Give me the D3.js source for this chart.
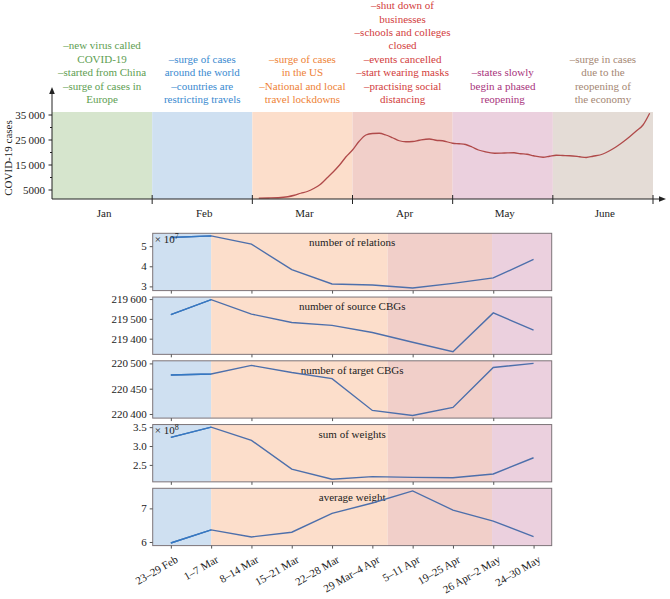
<!DOCTYPE html>
<html><head><meta charset="utf-8">
<script src="https://cdn.jsdelivr.net/npm/d3@7"></script>
<style>
body{margin:0;background:#fff}
svg{display:block;font-family:"Liberation Serif","Times New Roman",serif}
</style>
</head><body>
<svg id="c" width="670" height="599"></svg>
<script>
// ---------- DATA ----------
const months = ["Jan","Feb","Mar","Apr","May","June"];
const monthNotes = [
  ["\u2013new virus called","COVID-19","\u2013started from China","\u2013surge of cases in","Europe"],
  ["\u2013surge of cases","around the world","\u2013countries are","restricting travels"],
  ["\u2013surge of cases","in the US","\u2013National and local","travel lockdowns"],
  ["\u2013shut down of","businesses","\u2013schools and colleges","closed","\u2013events cancelled","\u2013start wearing masks","\u2013practising social","distancing"],
  ["\u2013states slowly","begin a phased","reopening"],
  ["\u2013surge in cases","due to the","reopening of","the economy"]
];
const monthBg = ["#d6e5cd","#cfe0f1","#fcdecb","#f1cfc9","#ebd0de","#e4dcd6"];
const monthText = ["#5e9e52","#3a8ad0","#ee8236","#d23c3c","#a8337c","#a58773"];

const caseDates = ["2020-03-03","2020-03-06","2020-03-09","2020-03-12","2020-03-14","2020-03-16","2020-03-18","2020-03-20","2020-03-22","2020-03-24","2020-03-26","2020-03-28","2020-03-30",
  "2020-04-01","2020-04-03","2020-04-05","2020-04-07","2020-04-09","2020-04-11","2020-04-13","2020-04-15","2020-04-17","2020-04-19","2020-04-21","2020-04-24","2020-04-26","2020-04-28",
  "2020-05-01","2020-05-03","2020-05-05","2020-05-07","2020-05-09","2020-05-11","2020-05-14","2020-05-17","2020-05-20","2020-05-22","2020-05-24","2020-05-26","2020-05-29","2020-05-31",
  "2020-06-02","2020-06-04","2020-06-06","2020-06-09","2020-06-11","2020-06-13","2020-06-16","2020-06-18","2020-06-20","2020-06-22","2020-06-24","2020-06-26","2020-06-28","2020-06-30"];
const caseValues = [1750,1800,1900,2300,2900,3700,4400,5600,7200,9700,12200,15000,18300,
  21000,24500,27000,27600,27700,27000,25900,24700,24300,24400,24900,25400,24900,24700,
  23700,23500,23200,22200,21000,20300,19700,19800,19900,19500,19300,18700,18100,18500,
  18900,18800,18700,18300,18000,18500,19400,20700,22300,24200,26300,28600,31000,35700];
const caseTicks = [5000,15000,25000,35000];
const caseMinorTicks = [10000,20000,30000];

const weekLabels = ["23\u201329 Feb","1\u20137 Mar","8\u201314 Mar","15\u201321 Mar","22\u201328 Mar","29 Mar\u20134 Apr","5\u201311 Apr","19\u201325 Apr","26 Apr\u20132 May","24\u201330 May"];
const relations  = [5.43e7,5.51e7,5.10e7,3.83e7,3.12e7,3.07e7,2.92e7,3.15e7,3.42e7,4.34e7];
const sourceCBGs = [219521,219597,219524,219482,219467,219431,219382,219334,219530,219443];
const targetCBGs = [220477,220479,220496,220482,220470,220407,220397,220413,220492,220500];
const sumWeights = [3.23e8,3.50e8,3.15e8,2.39e8,2.12e8,2.19e8,2.17e8,2.16e8,2.26e8,2.69e8];
const avgWeight  = [5.97,6.36,6.15,6.29,6.85,7.16,7.52,6.95,6.62,6.16];
const relTicks = [3e7,4e7,5e7];
const srcTicks = [219400,219500,219600];
const tgtTicks = [220400,220450,220500];
const sumTicks = [2.5e8,3.0e8,3.5e8];
const avgTicks = [6,7];
// phase boundaries (in week-index units) and colours
const phaseEdges = [1, 5.38, 7.97];
const phaseBg = ["#cfe0f1","#fcdecb","#f1cfc9","#ebd0de"];

// ---------- DRAW ----------
const svg = d3.select("#c");
const thin = "\u2009";
const grp = d3.format(",");
const fmtGroup = d => grp(d).replace(/,/g, thin);

// ===== Top chart =====
const tx = d3.scaleLinear().domain([0,6]).range([52,653]);
const ty = d3.scaleLinear().domain([1400,36200]).range([199,112]);
const monthPos = s => {
  const d = new Date(s + "T00:00:00");
  const m = d.getMonth(), day = d.getDate();
  const dim = new Date(d.getFullYear(), m+1, 0).getDate();
  return m + (day-1)/dim;
};
const topG = svg.append("g");
topG.selectAll("rect.mbg").data(months).join("rect")
  .attr("x",(d,i)=>tx(i)).attr("width",(d,i)=>tx(i+1)-tx(i))
  .attr("y",ty(36200)).attr("height",ty(1400)-ty(36200))
  .attr("fill",(d,i)=>monthBg[i]);

// notes
monthNotes.forEach((lines,i)=>{
  const n = lines.length;
  topG.append("g").selectAll("text").data(lines).join("text")
    .attr("x", tx(i+0.5))
    .attr("y",(d,j)=>103 - (n-1-j)*13.4)
    .attr("text-anchor","middle")
    .attr("font-size",11)
    .attr("fill",monthText[i])
    .text(d=>d);
});

// curve
topG.append("path")
  .datum(caseDates.map((d,i)=>[monthPos(d), caseValues[i]]))
  .attr("fill","none").attr("stroke","#b04a4a").attr("stroke-width",1.3)
  .attr("d", d3.line().x(d=>tx(d[0])).y(d=>ty(d[1])).curve(d3.curveMonotoneX));

// axes
const axCol = "#222";
topG.append("line").attr("x1",52).attr("x2",661).attr("y1",199).attr("y2",199).attr("stroke",axCol);
topG.append("path").attr("d","M666,199 L659,196.2 L659,201.8 Z").attr("fill",axCol);
topG.append("line").attr("x1",52).attr("x2",52).attr("y1",199).attr("y2",92).attr("stroke",axCol);
topG.append("path").attr("d","M52,87 L49.2,94 L54.8,94 Z").attr("fill",axCol);
topG.selectAll("line.mt").data(d3.range(1,7)).join("line")
  .attr("x1",d=>tx(d)).attr("x2",d=>tx(d)).attr("y1",195).attr("y2",204).attr("stroke",axCol);
topG.selectAll("text.ml").data(months).join("text")
  .attr("x",(d,i)=>tx(i+0.5)+2).attr("y",217).attr("text-anchor","middle")
  .attr("font-size",11).attr("fill","#222").text(d=>d);
topG.selectAll("line.yt").data(caseTicks).join("line")
  .attr("x1",48.5).attr("x2",52).attr("y1",d=>ty(d)).attr("y2",d=>ty(d)).attr("stroke",axCol);
topG.selectAll("line.ym").data(caseMinorTicks).join("line")
  .attr("x1",50).attr("x2",52).attr("y1",d=>ty(d)).attr("y2",d=>ty(d)).attr("stroke",axCol);
topG.selectAll("text.yl").data(caseTicks).join("text")
  .attr("x",45).attr("y",d=>ty(d)+3.8).attr("text-anchor","end")
  .attr("font-size",11).attr("fill","#222").text(d=>d>=10000?fmtGroup(d):String(d));
topG.append("text").attr("transform","translate(12,158) rotate(-90)")
  .attr("text-anchor","middle").attr("font-size",11).attr("fill","#222").text("COVID-19 cases");

// ===== Bottom panels =====
const px = d3.scaleLinear().domain([-0.45, 9.45]).range([152.7, 551.7]);
const panels = [
  {vals:relations,  ticks:relTicks, fmt:d=>String(Math.round(d/1e7)), title:"number of relations", exp:"7"},
  {vals:sourceCBGs, ticks:srcTicks, fmt:fmtGroup, title:"number of source CBGs"},
  {vals:targetCBGs, ticks:tgtTicks, fmt:fmtGroup, title:"number of target CBGs"},
  {vals:sumWeights, ticks:sumTicks, fmt:d=>d3.format(".1f")(d/1e8), title:"sum of weights", exp:"8"},
  {vals:avgWeight,  ticks:avgTicks, fmt:d=>String(d), title:"average weight"}
];
const edges = [-0.45, ...phaseEdges, 9.45];
const ptop0 = 233.3, pstep = 63.75, ph = 57.3;
const defs = svg.append("defs");
panels.forEach((p,i)=>{
  const t = ptop0 + i*pstep, b = t + ph;
  const [mn,mx] = d3.extent(p.vals), pad = (mx-mn)*0.05;
  const y = d3.scaleLinear().domain([mn-pad, mx+pad]).range([b, t]);
  const g = svg.append("g");
  g.selectAll("rect").data(phaseBg).join("rect")
    .attr("x",(d,k)=>px(edges[k])).attr("width",(d,k)=>px(edges[k+1])-px(edges[k]))
    .attr("y",t).attr("height",ph).attr("fill",d=>d);
  g.append("text").attr("x",px(4.5)).attr("y",t+13).attr("text-anchor","middle")
    .attr("font-size",11).attr("fill","#222").text(p.title);
  const lineGen = d3.line().x((d,k)=>px(k)).y(d=>y(d));
  g.append("path").datum(p.vals)
    .attr("fill","none").attr("stroke","#4d6fab").attr("stroke-width",1.4)
    .attr("d", lineGen);
  // brighter look of the line inside the first (blue) phase
  defs.append("clipPath").attr("id","clipBlue"+i).append("rect")
    .attr("x",px(edges[0])).attr("width",px(edges[1])-px(edges[0]))
    .attr("y",t).attr("height",ph);
  g.append("path").datum(p.vals)
    .attr("fill","none").attr("stroke","#3479c4").attr("stroke-width",1.4)
    .attr("clip-path",`url(#clipBlue${i})`)
    .attr("d", lineGen);
  g.append("rect").attr("x",px(-0.45)).attr("y",t).attr("width",px(9.45)-px(-0.45)).attr("height",ph)
    .attr("fill","none").attr("stroke","#7d7478").attr("stroke-width",1);
  // y axis
  const ya = g.append("g").attr("transform",`translate(${px(-0.45)},0)`)
    .call(d3.axisLeft(y).tickValues(p.ticks).tickSize(3).tickPadding(3).tickFormat(p.fmt));
  ya.select(".domain").remove();
  ya.selectAll("line").attr("stroke","#555");
  ya.selectAll("text").attr("font-size",11).attr("font-family","Liberation Serif, serif").attr("fill","#222");
  // x axis ticks
  const last = i === panels.length-1;
  const xt = last ? d3.range(10) : d3.range(0,10,2);
  const xa = g.append("g").attr("transform",`translate(0,${b})`)
    .call(d3.axisBottom(px).tickValues(xt).tickSize(3).tickFormat(""));
  xa.select(".domain").remove();
  xa.selectAll("line").attr("stroke","#555");
  if (p.exp) {
    const tt = g.append("text").attr("x",px(-0.45)+2).attr("y",t+9.5).attr("font-size",11).attr("fill","#222");
    tt.append("tspan").text("\u00d7 10");
    tt.append("tspan").attr("dy",-4).attr("font-size",8).text(p.exp);
  }
  if (last) {
    g.selectAll("text.xl").data(weekLabels).join("text")
      .attr("transform",(d,k)=>`translate(${px(k)+8},${b+16}) rotate(-30)`)
      .attr("text-anchor","end").attr("font-size",11).attr("fill","#222").text(d=>d);
  }
});
</script>
</body></html>
